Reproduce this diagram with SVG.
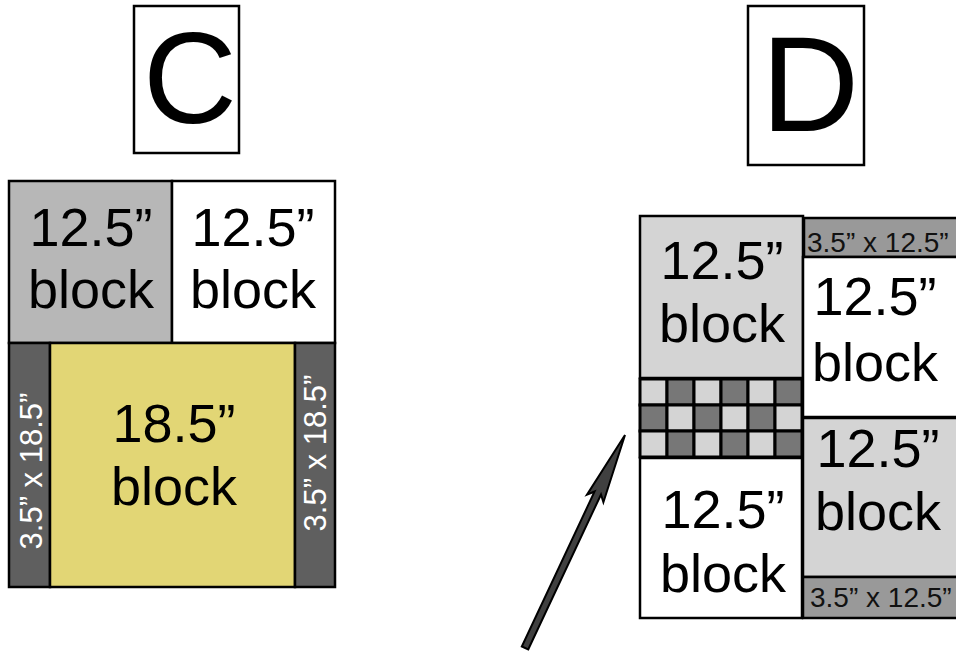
<svg xmlns="http://www.w3.org/2000/svg" width="956" height="651" viewBox="0 0 956 651">
<style>
  text { font-family: "Liberation Sans", Arial, sans-serif; }
  .blk { stroke: #000; stroke-width: 2.5; }
  .lbl { font-size: 54px; fill: #000; text-anchor: middle; }
  .big { fill: #000; text-anchor: middle; }
  .vt { font-size: 31px; fill: #fff; text-anchor: middle; }
  .ht { font-size: 28px; fill: #111; }
  .lt { fill: #d4d4d4; }
  .dk { fill: #777777; }
  .chk rect { stroke: #000; stroke-width: 3; }
</style>
<rect width="956" height="651" fill="#fff"/>

<g id="labelC">
  <rect x="134" y="6" width="105" height="147" fill="#fff" stroke="#000" stroke-width="2.5"/>
  <text class="big" x="190" y="123" font-size="130">C</text>
</g>
<g id="labelD">
  <rect x="748" y="6" width="116" height="159" fill="#fff" stroke="#000" stroke-width="2.5"/>
  <text class="big" x="810" y="131" font-size="136">D</text>
</g>

<g id="quiltC">
  <g id="c-top-left">
    <rect class="blk" x="9" y="181" width="163" height="162" fill="#b7b7b7"/>
    <text class="lbl" x="91" y="246">12.5”</text>
    <text class="lbl" x="91" y="308">block</text>
  </g>
  <g id="c-top-right">
    <rect class="blk" x="172" y="181" width="163" height="162" fill="#fff"/>
    <text class="lbl" x="253" y="246">12.5”</text>
    <text class="lbl" x="253" y="308">block</text>
  </g>
  <g id="c-left-strip">
    <rect class="blk" x="9" y="343" width="41" height="244" fill="#5f5f5f"/>
    <text class="vt" transform="translate(42,471) rotate(-90)">3.5” x 18.5”</text>
  </g>
  <g id="c-center">
    <rect class="blk" x="50" y="343" width="245" height="244" fill="#e2d675"/>
    <text class="lbl" x="174" y="442">18.5”</text>
    <text class="lbl" x="174" y="505">block</text>
  </g>
  <g id="c-right-strip">
    <rect class="blk" x="295" y="343" width="40" height="244" fill="#5f5f5f"/>
    <text class="vt" transform="translate(326,453) rotate(-90)">3.5” x 18.5”</text>
  </g>
</g>

<g id="quiltD">
  <g id="d-top-left">
    <rect class="blk" x="640" y="216" width="163" height="162" fill="#d4d4d4"/>
    <text class="lbl" x="722" y="279">12.5”</text>
    <text class="lbl" x="722" y="342">block</text>
  </g>
  <g id="d-checker" class="chk">
    <rect class="lt" x="640" y="379" width="27" height="26"/>
    <rect class="dk" x="667" y="379" width="27" height="26"/>
    <rect class="lt" x="694" y="379" width="27" height="26"/>
    <rect class="dk" x="721" y="379" width="27" height="26"/>
    <rect class="lt" x="748" y="379" width="27" height="26"/>
    <rect class="dk" x="775" y="379" width="27" height="26"/>
    <rect class="dk" x="640" y="405" width="27" height="26"/>
    <rect class="lt" x="667" y="405" width="27" height="26"/>
    <rect class="dk" x="694" y="405" width="27" height="26"/>
    <rect class="lt" x="721" y="405" width="27" height="26"/>
    <rect class="dk" x="748" y="405" width="27" height="26"/>
    <rect class="lt" x="775" y="405" width="27" height="26"/>
    <rect class="lt" x="640" y="431" width="27" height="26"/>
    <rect class="dk" x="667" y="431" width="27" height="26"/>
    <rect class="lt" x="694" y="431" width="27" height="26"/>
    <rect class="dk" x="721" y="431" width="27" height="26"/>
    <rect class="lt" x="748" y="431" width="27" height="26"/>
    <rect class="dk" x="775" y="431" width="27" height="26"/>
  </g>
  <g id="d-bottom-left">
    <rect class="blk" x="640" y="458" width="162" height="160" fill="#fff"/>
    <text class="lbl" x="723" y="528">12.5”</text>
    <text class="lbl" x="723" y="592">block</text>
  </g>
  <g id="d-top-strip">
    <rect class="blk" x="804" y="218" width="170" height="39" fill="#999999"/>
    <text class="ht" x="807" y="252">3.5” x 12.5”</text>
  </g>
  <g id="d-right-top">
    <rect class="blk" x="803" y="257" width="171" height="160" fill="#fff"/>
    <text class="lbl" x="875" y="315">12.5”</text>
    <text class="lbl" x="875" y="381">block</text>
  </g>
  <g id="d-right-bottom">
    <rect class="blk" x="803" y="418" width="171" height="159" fill="#d4d4d4"/>
    <text class="lbl" x="878" y="467">12.5”</text>
    <text class="lbl" x="878" y="530">block</text>
  </g>
  <g id="d-bottom-strip">
    <rect class="blk" x="803" y="577" width="171" height="41" fill="#999999"/>
    <text class="ht" x="810" y="607">3.5” x 12.5”</text>
  </g>
</g>

<g id="connectors">
  <polygon points="528.2,649.5 601.0,494.5 603.4,502.2 625,435 587.0,494.6 594.6,491.5 521.8,646.5" fill="#404040" stroke="#000" stroke-width="2" stroke-linejoin="miter"/>
</g>
</svg>
